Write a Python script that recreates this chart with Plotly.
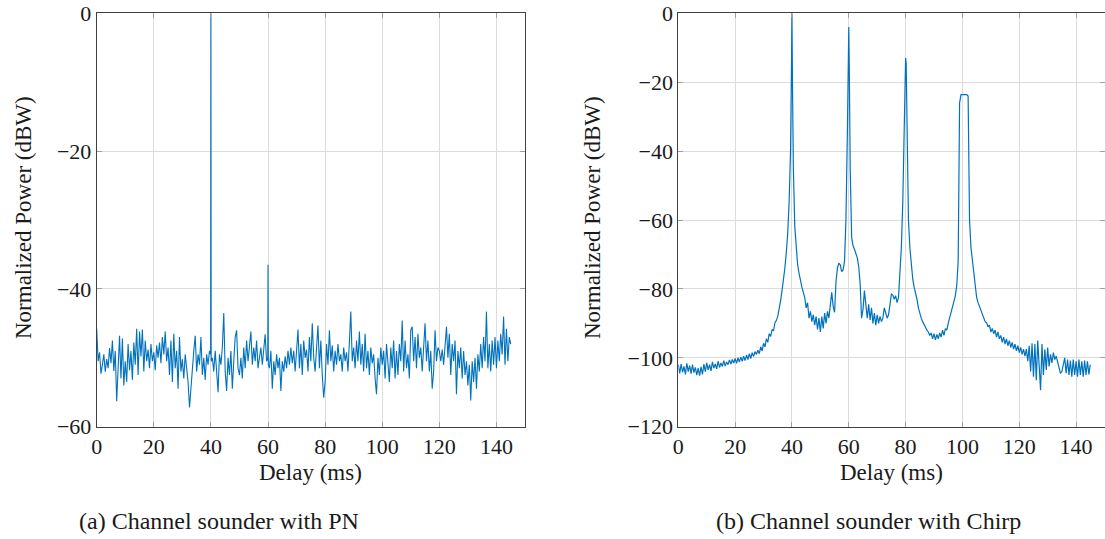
import numpy as np
import plotly.graph_objects as go

# ---------------- data ----------------
# (a) PN sounder: sampled every 0.5 ms from 0 to 145 ms
pn_delay_step = 0.5
pn_power = [
    # 0 - 9.5
    -45.8, -50.5, -49.2, -52.3, -51.0, -49.5, -52.0, -50.2, -51.5, -48.6,
    -50.8, -47.5, -51.9, -49.0, -56.3, -52.5, -46.8, -53.0, -47.2, -54.0,
    # 10 - 19.5
    -50.5, -53.5, -48.0, -51.8, -49.0, -53.2, -47.8, -51.0, -45.8, -52.5,
    -46.2, -49.8, -45.9, -52.0, -47.5, -50.5, -48.8, -51.5, -48.0, -50.5,
    # 20 - 29.5
    -49.2, -51.8, -48.2, -50.0, -47.8, -50.8, -47.0, -49.5, -46.2, -50.5,
    -48.5, -52.5, -47.5, -53.5, -46.5, -51.5, -49.0, -54.5, -47.0, -52.0,
    # 30 - 39.5
    -50.2, -53.0, -49.5, -51.5, -53.5, -57.2, -54.0, -51.5, -49.0, -46.8,
    -52.0, -49.5, -51.0, -47.0, -52.5, -50.0, -53.2, -49.5, -51.0, -49.0,
    # 40 - 49.5
    0.0, -50.0, -52.0, -49.0, -51.5, -55.0, -49.5, -51.0, -48.5, -43.5,
    -52.0, -54.8, -50.0, -52.5, -49.0, -54.5, -50.5, -47.0, -46.0, -51.5,
    # 50 - 59.5
    -52.5, -50.0, -53.0, -48.5, -51.5, -47.5, -50.5, -48.0, -46.2, -51.0,
    -48.5, -50.5, -47.5, -51.5, -49.5, -48.5, -51.0, -49.0, -46.6, -50.5,
    # 60 - 69.5
    -36.5, -51.5, -49.0, -54.5, -50.5, -52.5, -49.5, -51.5, -50.0, -54.8,
    -50.5, -52.0, -49.8, -51.5, -49.0, -51.0, -48.5, -50.8, -49.0, -52.0,
    # 70 - 79.5
    -48.0, -45.9, -51.5, -48.0, -52.5, -47.5, -50.0, -48.8, -52.0, -47.0,
    -50.5, -45.0, -50.0, -52.0, -48.5, -45.3, -51.5, -47.5, -52.5, -55.8,
    # 80 - 89.5
    -53.5, -48.0, -51.0, -46.0, -50.5, -48.2, -52.0, -49.0, -51.0, -48.0,
    -50.5, -49.5, -52.0, -48.5, -50.5, -49.2, -52.0, -47.0, -43.3, -50.5,
    # 90 - 99.5
    -48.5, -51.5, -47.5, -50.5, -46.2, -51.0, -48.0, -52.0, -46.5, -51.5,
    -49.0, -52.5, -48.5, -50.8, -49.5, -53.0, -55.3, -50.0, -52.5, -48.5,
    # 100 - 109.5
    -51.0, -49.0, -53.0, -48.0, -50.5, -53.5, -48.5, -51.5, -47.5, -53.0,
    -49.0, -52.5, -48.0, -50.5, -44.6, -52.0, -47.5, -51.5, -49.5, -53.0,
    # 110 - 119.5
    -46.0, -45.5, -50.5, -47.0, -51.5, -46.5, -50.0, -48.5, -52.0, -47.5,
    -45.0, -50.5, -47.5, -52.0, -49.0, -54.5, -52.0, -46.0, -50.5, -48.5,
    # 120 - 129.5
    -49.0, -50.5, -48.8, -51.0, -47.5, -45.5, -50.0, -46.5, -52.5, -48.0,
    -50.5, -47.5, -55.3, -49.0, -51.5, -48.5, -53.0, -49.0, -52.5, -50.5,
    # 130 - 139.5
    -54.0, -51.0, -56.2, -50.5, -53.5, -50.0, -54.5, -49.5, -52.0, -48.0,
    -51.5, -47.0, -50.5, -43.3, -51.5, -48.0, -52.0, -47.5, -51.0, -47.0,
    # 140 - 145
    -51.5, -47.5, -50.5, -46.5, -49.5, -44.0, -51.0, -45.8, -50.5, -47.0,
    -48.0,
]
# extra samples right beside the two correlation spikes
pn_extra_delay = [39.9, 40.1, 59.9, 60.1]
pn_extra_power = [-49.5, -50.5, -50.0, -51.0]

# (b) Chirp sounder: sampled every 0.5 ms from 0 to 145 ms
chirp_delay_step = 0.5
chirp_power = [
    # 0 - 9.5
    -102.0, -104.5, -101.8, -104.2, -102.5, -104.8, -101.6, -104.0, -102.3, -104.6,
    -102.0, -104.3, -102.8, -105.0, -103.0, -105.2, -102.6, -104.8, -101.8, -104.0,
    # 10 - 19.5
    -101.5, -103.5, -102.0, -103.8, -101.2, -103.0, -101.8, -103.2, -101.0, -102.8,
    -101.5, -102.5, -100.8, -102.4, -101.2, -102.0, -100.6, -101.8, -100.5, -101.5,
    # 20 - 29.5
    -100.2, -101.6, -100.0, -101.2, -99.8, -101.0, -99.5, -100.8, -99.2, -100.5,
    -98.8, -100.2, -98.5, -99.6, -98.2, -99.0, -97.8, -98.8, -96.8, -98.0,
    # 30 - 39.5
    -95.8, -96.8, -94.5, -95.5, -93.0, -93.8, -91.8, -92.2, -89.8, -89.2,
    -88.0, -86.0, -83.5, -80.5, -77.5, -74.0, -69.5, -64.0, -55.0, -40.0,
    # 40 - 49.5
    0.0, -45.0, -62.0, -68.5, -73.0, -75.5, -77.8, -79.5, -81.0, -82.5,
    -85.5, -84.0, -88.5, -86.5, -89.5, -87.5, -90.5, -88.0, -91.8, -88.5,
    # 50 - 59.5
    -92.5, -88.0, -91.5, -87.0, -90.0, -86.5, -88.5, -83.5, -81.0, -85.0,
    -86.8, -78.0, -74.0, -72.5, -73.0, -75.0, -74.5, -72.0, -60.0, -35.0,
    # 60 - 69.5
    -4.0, -45.0, -65.0, -67.5, -68.5, -69.5, -71.0, -73.5, -78.5, -88.5,
    -86.0, -80.5, -84.0, -88.5, -84.5, -89.0, -85.5, -90.0, -87.0, -90.5,
    # 70 - 79.5
    -87.5, -90.0, -88.0, -89.5, -88.5, -85.5, -87.0, -88.5, -87.5, -83.5,
    -81.5, -81.8, -83.0, -82.0, -84.0, -82.5, -76.0, -68.0, -55.0, -30.0,
    # 80 - 89.5
    -13.0, -38.0, -60.0, -68.0, -73.0, -77.0, -79.5, -81.0, -83.0, -85.5,
    -87.5, -88.5, -89.5, -90.5, -91.0, -92.0, -92.5, -93.5, -92.8, -94.5,
    # 90 - 99.5
    -93.0, -94.8, -93.2, -94.5, -92.8, -94.0, -92.0, -93.5, -91.5, -92.0,
    -90.0, -88.5, -87.0, -85.5, -84.0, -82.0, -79.0, -72.0, -26.0, -23.6,
    # 100 - 109.5
    -23.6, -23.6, -23.6, -23.6, -24.0, -60.0, -68.0, -72.0, -75.0, -78.5,
    -82.5, -84.0, -85.0, -86.0, -87.5, -88.0, -89.5, -89.8, -91.0, -90.5,
    # 110 - 119.5
    -92.5, -91.5, -93.0, -92.0, -94.0, -92.5, -94.5, -93.5, -95.5, -94.0,
    -96.0, -94.5, -96.5, -95.0, -97.0, -95.5, -97.5, -96.0, -98.0, -96.5,
    # 120 - 129.5
    -98.5, -97.0, -99.0, -97.5, -99.5, -97.5, -101.0, -96.5, -104.0, -95.8,
    -105.5, -96.0, -106.5, -95.0, -104.0, -109.4, -96.0, -105.0, -97.5, -103.5,
    # 130 - 139.5
    -97.0, -102.5, -99.0, -101.5, -98.5, -100.5, -99.5, -101.5, -102.5, -104.5,
    -104.0, -101.5, -100.0, -104.5, -100.5, -105.0, -100.8, -105.5, -100.5, -105.0,
    # 140 - 145
    -101.0, -105.5, -100.5, -105.0, -101.0, -105.5, -100.8, -105.0, -101.0, -104.8,
    -102.0,
]
# extra samples that shape the four chirp peaks
chirp_extra_delay = [39.8, 40.2, 59.8, 60.2, 79.8, 80.2, 98.8, 102.2]
chirp_extra_power = [-18.0, -22.0, -15.0, -18.0, -13.3, -14.5, -45.0, -40.0]

x_ticks = [0, 20, 40, 60, 80, 100, 120, 140]
pn_y_ticks = [0, -20, -40, -60]
chirp_y_ticks = [0, -20, -40, -60, -80, -100, -120]

x_title = "Delay (ms)"
y_title = "Normalized Power (dBW)"
caption_a = "(a) Channel sounder with PN"
caption_b = "(b) Channel sounder with Chirp"


def merged(step, values, ex_x, ex_y):
    xs = list(np.arange(len(values)) * step) + list(ex_x)
    ys = list(values) + list(ex_y)
    order = np.argsort(xs, kind="stable")
    return [xs[i] for i in order], [ys[i] for i in order]


pn_x, pn_y = merged(pn_delay_step, pn_power, pn_extra_delay, pn_extra_power)
ch_x, ch_y = merged(chirp_delay_step, chirp_power, chirp_extra_delay, chirp_extra_power)

# ---------------- figure ----------------
W, H = 1105, 539
BLUE = "#0072BD"
FONT = "Liberation Serif"
TXT = "#1a1a1a"

fig = go.Figure()
fig.add_trace(go.Scatter(x=pn_x, y=pn_y, mode="lines", xaxis="x", yaxis="y",
                         line=dict(color=BLUE, width=1.1), showlegend=False))
fig.add_trace(go.Scatter(x=ch_x, y=ch_y, mode="lines", xaxis="x2", yaxis="y2",
                         line=dict(color=BLUE, width=1.2), showlegend=False))


def px_x(p):
    return p / W


def px_y(p):
    return 1 - p / H


ydom = [px_y(426.7), px_y(13.3)]
common = dict(
    showline=True, linecolor="#404040", linewidth=1, mirror="ticks",
    ticks="inside", ticklen=5, tickcolor="#a0a0a0", tickwidth=1,
    showgrid=True, gridcolor="#dcdcdc", gridwidth=1, zeroline=False,
    automargin=False,
    tickfont=dict(family=FONT, size=22, color=TXT),
)

fig.update_layout(
    template="none",
    width=W, height=H,
    margin=dict(l=0, r=0, t=0, b=0, autoexpand=False),
    paper_bgcolor="white", plot_bgcolor="white",
    xaxis=dict(domain=[px_x(96.7), px_x(525)], range=[0, 150], tickvals=x_ticks,
               anchor="y", **common),
    yaxis=dict(domain=ydom, range=[-60, 0], tickvals=pn_y_ticks,
               ticktext=[str(v).replace("-", "\u2212") for v in pn_y_ticks],
               anchor="x", **common),
    xaxis2=dict(domain=[px_x(678.3), px_x(1104.5)], range=[0, 150], tickvals=x_ticks,
                anchor="y2", **common),
    yaxis2=dict(domain=ydom, range=[-120, 0], tickvals=chirp_y_ticks,
                ticktext=[str(v).replace("-", "\u2212") for v in chirp_y_ticks],
                anchor="x2", **common),
)

ann = []
for cx in (310.8, 891.6):
    ann.append(dict(text=x_title, x=px_x(cx), y=px_y(472), xref="paper", yref="paper",
                    showarrow=False, xanchor="center", yanchor="middle",
                    font=dict(family=FONT, size=23, color=TXT)))
for cx in (24, 593):
    ann.append(dict(text=y_title, x=px_x(cx), y=px_y(218), xref="paper", yref="paper",
                    showarrow=False, xanchor="center", yanchor="middle", textangle=-90,
                    font=dict(family=FONT, size=23, color=TXT)))
for cx, t in ((218.5, caption_a), (868.5, caption_b)):
    ann.append(dict(text=t, x=px_x(cx), y=px_y(521), xref="paper", yref="paper",
                    showarrow=False, xanchor="center", yanchor="middle",
                    font=dict(family=FONT, size=24, color=TXT)))
fig.update_layout(annotations=ann)

fig.write_html("out.html")
